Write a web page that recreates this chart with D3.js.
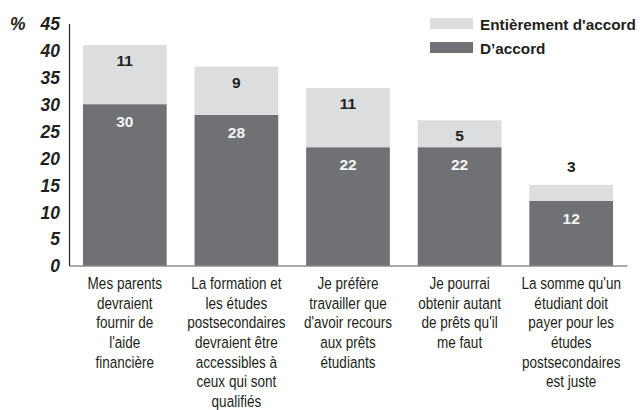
<!DOCTYPE html>
<html><head><meta charset="utf-8">
<script src="https://cdn.jsdelivr.net/npm/d3@7"></script>
<style>
body{margin:0;background:#fff;}
svg{display:block;}
</style></head>
<body><svg id="c" width="640" height="410"></svg>
<script>
const categories = [
  ["Mes parents","devraient","fournir de","l'aide","financière"],
  ["La formation et","les études","postsecondaires","devraient être","accessibles à","ceux qui sont","qualifiés"],
  ["Je préfère","travailler que","d'avoir recours","aux prêts","étudiants"],
  ["Je pourrai","obtenir autant","de prêts qu'il","me faut"],
  ["La somme qu'un","étudiant doit","payer pour les","études","postsecondaires","est juste"]
];
const accord = [30, 28, 22, 22, 12];
const entierement = [11, 9, 11, 5, 3];
const yTicks = [0, 5, 10, 15, 20, 25, 30, 35, 40, 45];
const seriesNames = ["Entièrement d'accord", "D’accord"];

const dark = "#707174", light = "#dcdddf", textC = "#231f20";
const boldFont = "'Liberation Sans',Arial,sans-serif";

const svg = d3.select("#c");
const x = d3.scaleBand().domain(d3.range(categories.length)).range([69, 627]).paddingInner(0.25).paddingOuter(0.125);
const y = d3.scaleLinear().domain([0, 45]).range([265.5, 23.5]);

// y axis
const yAxis = svg.append("g").attr("transform", "translate(69,0)")
  .call(d3.axisLeft(y).tickValues(yTicks).tickSize(0).tickPadding(9));
yAxis.select(".domain").attr("stroke", textC).attr("stroke-width", 1.2);
yAxis.selectAll("text").attr("font-family", boldFont).attr("font-weight", "bold")
  .attr("font-style", "italic").attr("font-size", 17.5).attr("fill", textC).attr("dy", "0.36em");
svg.append("text").attr("x", 10).attr("y", y(45)).attr("dy", "0.36em")
  .attr("font-family", boldFont).attr("font-weight", "bold").attr("font-style", "italic")
  .attr("font-size", 17.5).attr("fill", textC).text("%");

// bars
const g = svg.append("g");
categories.forEach((c, i) => {
  const x0 = x(i), w = x.bandwidth();
  const a = accord[i], e = entierement[i];
  g.append("rect").attr("x", x0).attr("width", w).attr("y", y(a)).attr("height", y(0) - y(a)).attr("fill", dark);
  g.append("rect").attr("x", x0).attr("width", w).attr("y", y(a + e)).attr("height", y(a) - y(a + e)).attr("fill", light);
  g.append("text").attr("x", x0 + w / 2).attr("y", y(a) + 17.5).attr("dy", "0.36em")
    .attr("text-anchor", "middle").attr("font-family", boldFont).attr("font-weight", "bold")
    .attr("font-size", 15.5).attr("fill", "#f4f4f4").text(a);
  const inside = (y(a) - y(a + e)) > 22;
  g.append("text").attr("x", x0 + w / 2).attr("y", inside ? y(a + e) + 15.5 : y(a + e) - 18).attr("dy", "0.36em")
    .attr("text-anchor", "middle").attr("font-family", boldFont).attr("font-weight", "bold")
    .attr("font-size", 15.5).attr("fill", textC).text(e);
});

// x axis
const xAxis = svg.append("g").attr("transform", `translate(0,${y(0)})`)
  .call(d3.axisBottom(x).tickSize(0).tickFormat(""));
xAxis.select(".domain").attr("stroke", "#555").attr("stroke-width", 1.2);

categories.forEach((lines, i) => {
  const cg = svg.append("g").attr("transform", `translate(${x(i) + x.bandwidth() / 2},289) scale(0.82,1)`);
  const t = cg.append("text").attr("x", 0).attr("y", 0)
    .attr("text-anchor", "middle").attr("font-family", boldFont).attr("font-size", 16.5).attr("fill", textC);
  lines.forEach((l, k) => t.append("tspan").attr("x", 0).attr("dy", k ? 19.7 : 0).text(l));
});

// legend
const legendColors = [light, dark];
seriesNames.forEach((n, k) => {
  const ly = 18 + k * 24;
  svg.append("rect").attr("x", 430).attr("y", ly).attr("width", 43).attr("height", 11).attr("fill", legendColors[k]);
  svg.append("text").attr("x", 480).attr("y", ly + 6).attr("dy", "0.36em")
    .attr("font-family", boldFont).attr("font-weight", "bold").attr("font-size", 15.3).attr("fill", textC).text(n);
});
</script></body></html>
